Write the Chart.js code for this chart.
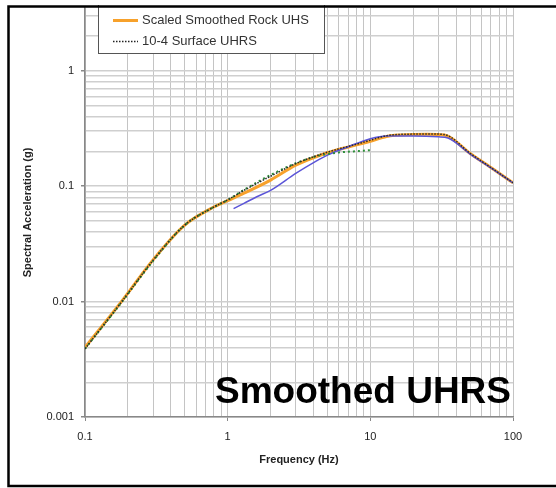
<!DOCTYPE html>
<html>
<head>
<meta charset="utf-8">
<script src="https://cdn.jsdelivr.net/npm/chart.js@4.4.1/dist/chart.umd.min.js"></script>
<style>
  html, body { margin: 0; padding: 0; background: #fff; }
  #wrap { position: relative; width: 556px; height: 488px; }
</style>
</head>
<body>
<div id="wrap"><canvas id="uhrsChart" width="556" height="488"></canvas></div>
<script>
// === DỮ LIỆU ===
// Scaled Smoothed Rock UHS (cam)
const rockFreq = [0.1, 0.18, 0.3, 0.5, 0.8, 1.0, 1.3, 2, 3, 5, 8, 10, 13, 20, 25, 33, 50, 70, 100];
const rockAcc  = [0.004, 0.01, 0.023, 0.046, 0.066, 0.075, 0.087, 0.113, 0.152, 0.195, 0.228, 0.245, 0.27, 0.28, 0.282, 0.278, 0.192, 0.145, 0.107];

// 10-4 Surface UHRS (đen, chấm)
const surfFreq = [0.1, 0.18, 0.3, 0.5, 0.8, 1.0, 1.3, 2, 3, 5, 8, 10, 13, 20, 25, 33, 50, 70, 100];
const surfAcc  = [0.0039, 0.0099, 0.0228, 0.046, 0.066, 0.076, 0.092, 0.122, 0.157, 0.197, 0.231, 0.25, 0.274, 0.283, 0.284, 0.28, 0.193, 0.145, 0.107];

// Đường xanh lá (chấm), chỉ tới 10 Hz
const greenFreq = [0.1, 0.18, 0.3, 0.5, 0.8, 1.0, 1.3, 2, 3, 4, 5, 6, 7, 8, 10];
const greenAcc  = [0.0039, 0.0098, 0.0225, 0.046, 0.066, 0.076, 0.093, 0.125, 0.158, 0.179, 0.19, 0.196, 0.199, 0.201, 0.205];

// Đường xanh dương, từ ~1.1 Hz
const blueFreq = [1.1, 1.3, 1.6, 2, 3, 4, 5, 7, 10, 13, 20, 30, 35, 50, 70, 100];
const blueAcc  = [0.064, 0.071, 0.081, 0.092, 0.129, 0.16, 0.186, 0.22, 0.258, 0.272, 0.272, 0.268, 0.262, 0.19, 0.144, 0.107];

// Nhãn trục
const xTickLabels = ['0.1', '1', '10', '100'];
const yTickLabels = ['0.001', '0.01', '0.1', '1'];
const legendLabels = ['Scaled Smoothed Rock UHS', '10-4 Surface UHRS'];

const toPoints = (xs, ys) => xs.map((x, i) => ({ x: x, y: ys[i] }));

// Lưới phụ 1..9 x 10^n
function logTicks(min, max) {
    const out = [];
    for (let e = Math.floor(Math.log10(min)); e <= Math.ceil(Math.log10(max)); e++) {
        for (let m = 1; m <= 9; m++) {
            const v = parseFloat((m * Math.pow(10, e)).toPrecision(3));
            if (v >= min - 1e-9 && v <= max + 1e-9) out.push(v);
        }
    }
    return out;
}
const isMajor = (v) => Math.abs(Math.log10(v) - Math.round(Math.log10(v))) < 1e-6;
const labelFor = (v, labels) => {
    const s = labels.find(l => Math.abs(parseFloat(l) - v) < v * 1e-6);
    return s === undefined ? '' : s;
};

// Plugin: legend, chữ lớn, khung
const overlayPlugin = {
    id: 'overlay',
    afterDraw(chart) {
        const ctx = chart.ctx;
        ctx.save();
        // legend
        ctx.fillStyle = '#fff';
        ctx.fillRect(98, 0, 226, 53);
        ctx.strokeStyle = '#555';
        ctx.lineWidth = 1;
        ctx.strokeRect(98.5, -2, 226, 55.5);
        ctx.beginPath();
        ctx.strokeStyle = '#F7A12B';
        ctx.lineWidth = 3;
        ctx.moveTo(113, 20.5); ctx.lineTo(138, 20.5);
        ctx.stroke();
        ctx.beginPath();
        ctx.strokeStyle = '#222';
        ctx.lineWidth = 1.5;
        ctx.setLineDash([1.5, 1.5]);
        ctx.moveTo(113, 41.5); ctx.lineTo(138, 41.5);
        ctx.stroke();
        ctx.setLineDash([]);
        ctx.fillStyle = '#333';
        ctx.font = '13px "Liberation Sans", Arial, sans-serif';
        ctx.textBaseline = 'middle';
        ctx.fillText(legendLabels[0], 142, 20);
        ctx.fillText(legendLabels[1], 142, 41);

        // chữ lớn
        ctx.fillStyle = '#000';
        ctx.font = 'bold 37px "Liberation Sans", Arial, sans-serif';
        ctx.textAlign = 'right';
        ctx.textBaseline = 'alphabetic';
        ctx.fillText('Smoothed UHRS', 511, 403);

        // khung
        ctx.fillStyle = '#fff';
        ctx.fillRect(0, 0, 556, 5);
        ctx.strokeStyle = '#000';
        ctx.lineWidth = 2.5;
        ctx.beginPath();
        ctx.moveTo(560, 6.5);
        ctx.lineTo(8.5, 6.5);
        ctx.lineTo(8.5, 486);
        ctx.lineTo(560, 486);
        ctx.stroke();
        ctx.restore();
    }
};

const ctx = document.getElementById('uhrsChart').getContext('2d');
const tickFont = { family: '"Liberation Sans", Arial, sans-serif', size: 11 };
const titleFont = { family: '"Liberation Sans", Arial, sans-serif', size: 11, weight: 'bold' };

const uhrsChart = new Chart(ctx, {
    type: 'line',
    data: {
        datasets: [
            {
                label: legendLabels[1],
                data: toPoints(surfFreq, surfAcc),
                borderColor: '#2a2a2a',
                borderWidth: 1.5,
                borderDash: [1.5, 1.5],
                pointRadius: 0
            },
            {
                label: 'green',
                data: toPoints(greenFreq, greenAcc),
                borderColor: '#2f8f3a',
                borderWidth: 2,
                borderDash: [2, 3],
                pointRadius: 0
            },
            {
                label: 'blue',
                data: toPoints(blueFreq, blueAcc),
                borderColor: '#5b55d8',
                borderWidth: 1.5,
                pointRadius: 0
            },
            {
                label: legendLabels[0],
                data: toPoints(rockFreq, rockAcc),
                borderColor: '#F7A12B',
                borderWidth: 3,
                pointRadius: 0
            }
        ]
    },
    options: {
        responsive: false,
        animation: false,
        datasets: { line: { cubicInterpolationMode: 'monotone' } },
        layout: { padding: { left: 0, top: 8, right: 43, bottom: 0 } },
        plugins: {
            legend: { display: false },
            tooltip: { enabled: false }
        },
        scales: {
            x: {
                type: 'logarithmic',
                min: 0.1,
                max: 100,
                afterFit: (scale) => { scale.height = 71; },
                afterBuildTicks: (scale) => {
                    scale.ticks = logTicks(0.1, 100).map(v => ({ value: v, major: isMajor(v) }));
                },
                ticks: {
                    autoSkip: false,
                    maxRotation: 0,
                    padding: 9,
                    color: '#222',
                    font: tickFont,
                    callback: (v) => labelFor(v, xTickLabels)
                },
                grid: {
                    color: '#c4c4c4',
                    lineWidth: 1,
                    tickLength: 4,
                    tickColor: (c) => (c.tick && isMajor(c.tick.value)) ? '#888' : 'rgba(0,0,0,0)'
                },
                border: { color: '#888', width: 1.5 },
                title: {
                    display: true,
                    text: 'Frequency (Hz)',
                    color: '#222',
                    font: titleFont,
                    padding: { top: 0, bottom: 21 }
                }
            },
            y: {
                type: 'logarithmic',
                min: 0.001,
                max: 3.5,
                afterFit: (scale) => {
                    scale.width = 85;
                    scale.paddingTop = 0;
                    scale.paddingBottom = 0;
                },
                afterBuildTicks: (scale) => {
                    scale.ticks = logTicks(0.001, 3.5).map(v => ({ value: v, major: isMajor(v) }));
                },
                ticks: {
                    autoSkip: false,
                    padding: 7,
                    color: '#222',
                    font: tickFont,
                    callback: (v) => labelFor(v, yTickLabels)
                },
                grid: {
                    color: '#cfcfcf',
                    lineWidth: 1.5,
                    tickLength: 4,
                    tickColor: (c) => (c.tick && isMajor(c.tick.value)) ? '#888' : 'rgba(0,0,0,0)'
                },
                border: { color: '#888', width: 1.5 },
                title: {
                    display: true,
                    text: 'Spectral Acceleration (g)',
                    color: '#222',
                    font: titleFont,
                    padding: { top: 21, bottom: 0 }
                }
            }
        }
    },
    plugins: [overlayPlugin]
});
</script>
</body>
</html>
